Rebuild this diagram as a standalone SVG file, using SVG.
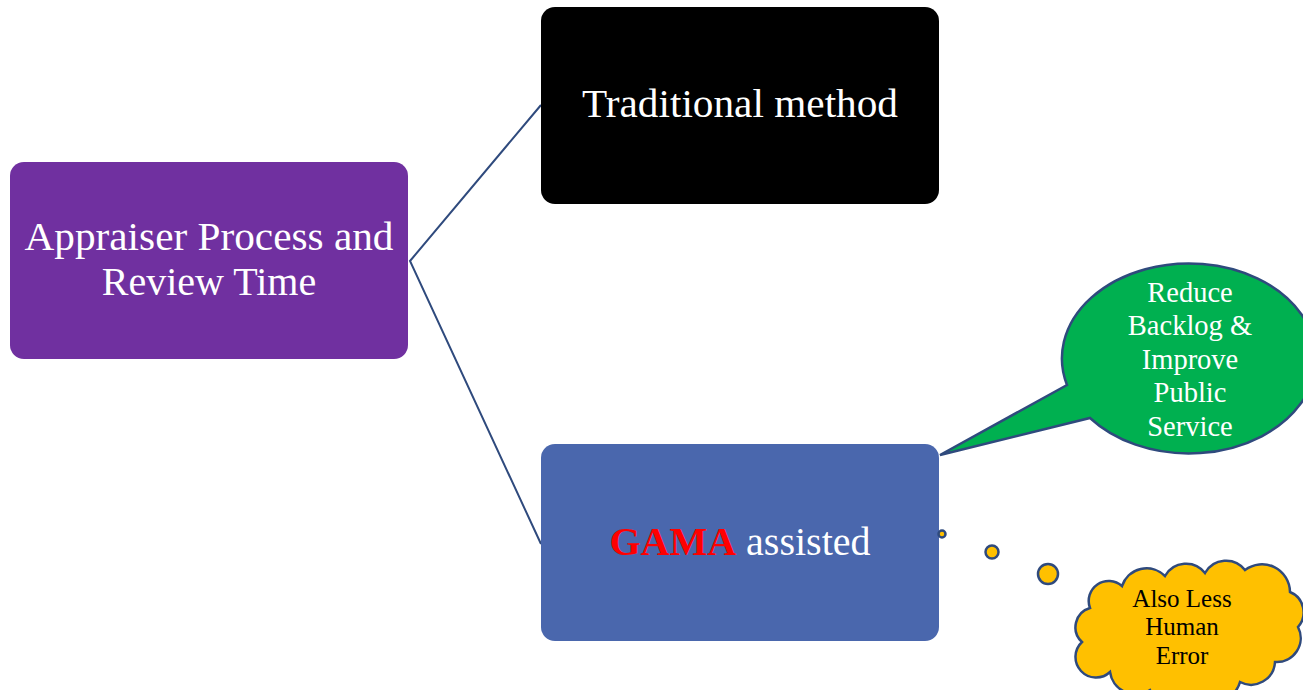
<svg xmlns="http://www.w3.org/2000/svg" width="1303" height="690" viewBox="0 0 1303 690">
<style>
.t{font-family:"Liberation Serif","DejaVu Serif",serif;text-anchor:middle}
.w{fill:#ffffff}
.con{stroke:#2F4A7D;stroke-width:2;fill:none}
.bub{fill:#FFC000;stroke:#2F4A7D;stroke-width:2.5}
</style>
<rect width="1303" height="690" fill="#ffffff"/>
<g id="connectors">
<polyline class="con" points="541,105 410,261 541,544"/>
</g>
<g id="appraiser">
<rect x="10" y="162" width="398" height="197" rx="14" fill="#7030A0"/>
<text class="t w" x="209" y="250" font-size="40" textLength="369" lengthAdjust="spacingAndGlyphs">Appraiser Process and</text>
<text class="t w" x="209" y="295" font-size="40">Review Time</text>
</g>
<g id="traditional">
<rect x="541" y="7" width="398" height="197" rx="14" fill="#000000"/>
<text class="t w" x="740" y="117" font-size="40" textLength="316" lengthAdjust="spacingAndGlyphs">Traditional method</text>
</g>
<g id="gama">
<rect x="541" y="444" width="398" height="197" rx="14" fill="#4A67AD"/>
<text class="t w" x="740" y="555" font-size="40"><tspan fill="#FF0000" font-weight="bold">GAMA</tspan> assisted</text>
</g>
<g id="callout">
<path d="M940,455 L1067,385 A127,95 0 1 1 1090,418 Z" fill="#00B050" stroke="#2F4A7D" stroke-width="2.5"/>
<text class="t w" font-size="28.5"><tspan x="1190" y="302">Reduce</tspan><tspan x="1190" y="335">Backlog &amp;</tspan><tspan x="1190" y="369">Improve</tspan><tspan x="1190" y="402">Public</tspan><tspan x="1190" y="436">Service</tspan></text>
</g>
<g id="thought">
<circle class="bub" cx="942" cy="534" r="3.5" stroke-width="2"/>
<circle class="bub" cx="992" cy="552" r="6.5"/>
<circle class="bub" cx="1048" cy="574" r="10"/>
<path class="bub" d="M1090,608 A20,20 0 0 1 1122,586 A26,26 0 0 1 1165,576 A24,24 0 0 1 1205,573 A24,24 0 0 1 1245,570 A28,28 0 0 1 1290,592 A22,22 0 0 1 1298,627 A24,24 0 0 1 1275,662 A24,24 0 0 1 1240,682 A26,26 0 0 1 1195,692 A26,26 0 0 1 1150,690 A26,26 0 0 1 1110,672 A20,20 0 0 1 1082,642 A20,20 0 0 1 1090,608 Z"/>
<text class="t" font-size="25" fill="#000000"><tspan x="1182" y="607">Also Less</tspan><tspan x="1182" y="635">Human</tspan><tspan x="1182" y="664">Error</tspan></text>
</g>
</svg>
